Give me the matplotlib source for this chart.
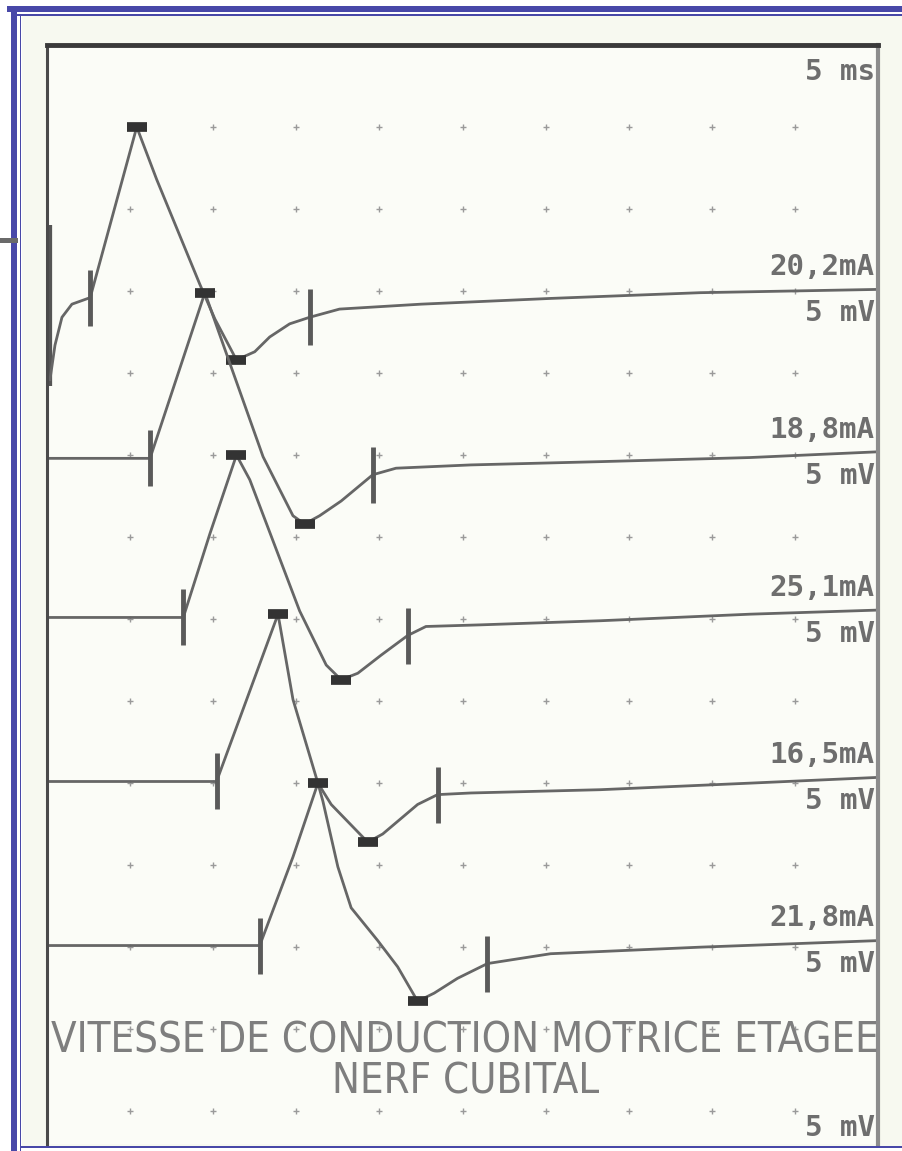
import numpy as np
import matplotlib.pyplot as plt
from matplotlib.patches import Rectangle

# Staged motor conduction velocity, ulnar nerve: 5 traces, time in ms, amplitude in mV
# (amplitude is relative to each trace's own baseline)
t1 = [0.18, 0.48, 0.90, 1.5, 2.6, 5.4, 6.6, 9.2, 10.1, 11.4, 12.5, 13.4, 14.6, 15.8, 17.6, 22.5, 30.3, 39.3, 50]
a1 = [-5.0, -2.9, -1.2, -0.4, 0, 10.4, 7.2, 0.8, -1.3, -3.8, -3.3, -2.4, -1.6, -1.2, -0.7, -0.4, -0.05, 0.3, 0.5]

t2 = [0, 6.2, 9.5, 10.3, 13.0, 14.8, 15.5, 16.4, 17.7, 19.6, 21.0, 25.5, 33.3, 42.3, 50]
a2 = [0, 0, 10.1, 7.8, 0.1, -3.5, -4.0, -3.5, -2.6, -1.0, -0.6, -0.4, -0.2, 0.05, 0.4]

t3 = [0, 8.2, 9.8, 11.4, 12.2, 15.2, 16.8, 17.7, 18.7, 20.1, 21.7, 22.8, 26.1, 33.3, 42.3, 50]
a3 = [0, 0, 5.1, 9.9, 8.4, 0.4, -2.9, -3.8, -3.4, -2.3, -1.1, -0.55, -0.45, -0.2, 0.2, 0.45]

t4 = [0, 10.2, 13.9, 14.8, 16.3, 17.1, 19.3, 20.2, 22.3, 23.5, 25.5, 33.3, 42.3, 50]
a4 = [0, 0, 10.2, 5.0, -0.1, -1.4, -3.7, -3.2, -1.4, -0.8, -0.7, -0.5, -0.1, 0.25]

t5 = [0, 12.8, 14.8, 16.3, 16.6, 17.5, 18.3, 19.9, 21.1, 22.3, 23.3, 24.7, 26.5, 30.3, 39.3, 50]
a5 = [0, 0, 5.4, 9.9, 8.8, 4.8, 2.3, 0.3, -1.3, -3.4, -2.9, -2.0, -1.1, -0.5, -0.1, 0.3]

# index of onset / end cursors and of peak / trough cursors in each trace
cursor_idx = [(4, 13), (1, 9), (1, 10), (1, 9), (1, 12)]
extrema_idx = [(5, 9), (2, 6), (3, 7), (2, 6), (3, 9)]

baselines = [-15.4, -25.2, -34.9, -44.9, -54.9]
stim_labels = ["20,2mA", "18,8mA", "25,1mA", "16,5mA", "21,8mA"]
gain_label = "5 mV"

grid_t = [5, 10, 15, 20, 25, 30, 35, 40, 45]
grid_v = [-5, -10, -15, -20, -25, -30, -35, -40, -45, -50, -55, -60, -65]

title_lines = ["VITESSE DE CONDUCTION MOTRICE ETAGEE", "NERF CUBITAL"]

traces = [(t1, a1), (t2, a2), (t3, a3), (t4, a4), (t5, a5)]

W, H = 902, 1151
fig = plt.figure(figsize=(W / 100, H / 100), dpi=100)
fig.patch.set_facecolor("white")


def px(x0, y0, w, h):
    # pixel box (top-left origin) -> figure fraction rectangle
    return (x0 / W, 1 - (y0 + h) / H), w / W, h / H


blue = "#4848a8"
for (x0, y0, w, h), c, z in [((22, 16, 880, 1130), "#f7f9f0", -10),
                             ((7, 6, 895, 6), blue, 5),
                             ((11, 6, 6, 1145), blue, 5),
                             ((11, 14, 891, 1.6), blue, 5),
                             ((19.5, 14, 1.6, 1137), blue, 5),
                             ((20, 1146, 882, 2.2), blue, 5),
                             ((0, 238, 18, 5), "#6a6a6a", 5)]:
    xy, fw, fh = px(x0, y0, w, h)
    fig.add_artist(Rectangle(xy, fw, fh, transform=fig.transFigure, color=c, lw=0, zorder=z))

ax = fig.add_axes([47 / W, 1 - 1144 / H, 831 / W, 1099 / H])
ax.set_xlim(0, 50)
ax.set_ylim(-67, 0)
ax.set_facecolor("#fbfcf7")
ax.set_xticks([])
ax.set_yticks([])
ax.spines["bottom"].set_visible(False)
ax.spines["top"].set_linewidth(3.5)
ax.spines["top"].set_color("#3a3a3a")
ax.spines["left"].set_linewidth(2.2)
ax.spines["left"].set_color("#4a4a4a")
ax.spines["right"].set_linewidth(3)
ax.spines["right"].set_color("#8c8c8c")

gt, gv = np.meshgrid(grid_t, grid_v)
ax.plot(gt.ravel(), gv.ravel(), "+", ms=4, mew=1, color="#9a9a9a")

# stimulus artefact on the first sweep
ax.plot([0.15, 0.15], [-11.0, -20.8], color="#555555", lw=4.5, solid_capstyle="butt")

lab_style = dict(ha="right", fontsize=21, family="DejaVu Sans Mono", weight="bold", color="#6e6e6e")

for (t, a), off, cur, ext, lab in zip(traces, baselines, cursor_idx, extrema_idx, stim_labels):
    y = np.array(a) + off
    ax.plot(t, y, color="#666666", lw=2.0)
    ax.plot([t[i] for i in cur], [y[i] for i in cur], "|", ms=40, mew=3.5, color="#5a5a5a")
    ax.plot([t[i] for i in ext], [y[i] for i in ext], "_", ms=14, mew=7, color="#333333")
    ax.text(49.8, y[-1] + 0.5, lab, va="bottom", **lab_style)
    ax.text(49.8, y[-1] - 0.6, gain_label, va="top", **lab_style)

ax.text(49.8, -1.65, "5 ms", va="center", **lab_style)
ax.text(49.8, -66.0, gain_label, va="center", **lab_style)

title_style = dict(ha="center", va="center", family="DejaVu Sans", fontstretch="condensed",
                   color="#7e7e7e", fontsize=30)
ax.text(25.15, -60.7, title_lines[0], **title_style)
ax.text(25.2, -63.2, title_lines[1], **title_style)

fig.savefig("out.png", dpi=100)
